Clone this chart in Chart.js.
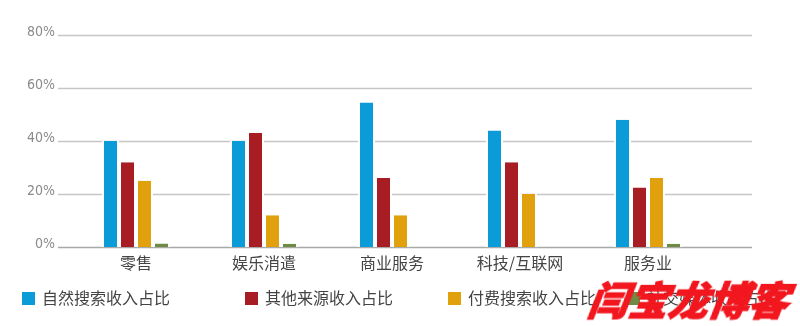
<!DOCTYPE html>
<html lang="zh-CN">
<head>
<meta charset="utf-8">
<title>各行业收入来源占比</title>
<script src="https://cdn.jsdelivr.net/npm/chart.js"></script>
<style>
    html, body { margin: 0; padding: 0; background: #fff; }
    #wrap { position: relative; width: 800px; height: 326px; overflow: hidden; }
    #chart { position: absolute; left: 0; top: 0; }
    .legend-item {
        position: absolute; top: 287px; height: 20px;
        font: 16px "Noto Sans CJK SC", sans-serif; color: #444;
        line-height: 20px; white-space: nowrap;
    }
    .legend-item i {
        display: inline-block; width: 13px; height: 13px;
        vertical-align: -1px; margin-right: 7px;
    }
    #mark {
        position: absolute; left: 589px; top: 276px;
        font: italic 900 40px "Noto Sans CJK SC", sans-serif;
        color: #f2161e; line-height: 46px; letter-spacing: 0;
        -webkit-text-stroke: 1.2px #f2161e;
        transform: skewX(-8deg);
    }
</style>
</head>
<body>
<div id="wrap">
    <canvas id="chart" width="800" height="326"></canvas>
    <div id="legend"></div>
    <div id="mark">闫宝龙博客</div>
</div>
<script>
    // 行业
    const industries = ['零售', '娱乐消遣', '商业服务', '科技/互联网', '服务业'];

    // 各收入来源占比 (%)
    const organicSearch = [40, 40, 54.5, 44, 48];
    const otherSources  = [32, 43, 26, 32, 22.5];
    const paidSearch    = [25, 12, 12, 20, 26];
    const socialMedia   = [1.3, 1.2, 0, 0, 1.2];

    const seriesNames  = ['自然搜索收入占比', '其他来源收入占比', '付费搜索收入占比', '社交媒体收入占比'];
    const seriesColors = ['#0b9bd8', '#a81c24', '#e0a10c', '#6e8a44'];
    const yTicks = [0, 20, 40, 60, 80];

    // 图例的横向位置
    const legendLeft = [22, 245, 448, 627];

    const seriesData = [organicSearch, otherSources, paidSearch, socialMedia];

    // 横向网格线比绘图区更宽，这里自己画
    const wideGrid = {
        id: 'wideGrid',
        beforeDatasetsDraw(chart) {
            const { ctx, scales: { x, y } } = chart;
            ctx.save();
            y.ticks.forEach(function (t) {
                const py = Math.round(y.getPixelForValue(t.value)) + 0.5;
                ctx.beginPath();
                ctx.lineWidth = 1.6;
                ctx.strokeStyle = t.value === 0 ? '#a9a9a9' : '#c6c6c6';
                ctx.moveTo(x.left - 14, py);
                ctx.lineTo(x.right + 40, py);
                ctx.stroke();
            });
            ctx.restore();
        }
    };

    const datasets = seriesNames.map(function (name, i) {
        return {
            label: name,
            data: seriesData[i],
            backgroundColor: seriesColors[i],
            borderColor: '#ffffff',
            borderWidth: { left: 2, right: 2, top: 0, bottom: 0 },
            borderSkipped: 'start',
            categoryPercentage: 0.531,
            barPercentage: 1.0
        };
    });

    new Chart(document.getElementById('chart'), {
        type: 'bar',
        data: { labels: industries, datasets: datasets },
        options: {
            responsive: false,
            animation: false,
            layout: { padding: { left: 0, right: 88, top: 35, bottom: 49 } },
            plugins: {
                legend: { display: false },
                tooltip: { enabled: false }
            },
            scales: {
                x: {
                    grid: { display: false, drawTicks: false },
                    border: { display: false },
                    ticks: {
                        padding: 6,
                        color: '#444',
                        font: { family: '"Noto Sans CJK SC", sans-serif', size: 16 }
                    },
                    afterFit(scale) { scale.height = 30; }
                },
                y: {
                    min: 0,
                    max: 80,
                    afterBuildTicks(scale) {
                        scale.ticks = yTicks.map(function (v) { return { value: v }; });
                    },
                    grid: { display: false, drawTicks: false },
                    border: { display: false },
                    ticks: {
                        padding: 17,
                        labelOffset: -3,
                        color: '#8a8a8a',
                        font: { family: '"Liberation Sans Narrow", "DejaVu Sans Condensed", sans-serif', size: 14 },
                        callback: function (v) { return v + '%'; }
                    },
                    afterFit(scale) { scale.width = 72; }
                }
            }
        },
        plugins: [wideGrid]
    });

    // 图例
    const legend = document.getElementById('legend');
    seriesNames.forEach(function (name, i) {
        const item = document.createElement('div');
        item.className = 'legend-item';
        item.style.left = legendLeft[i] + 'px';
        item.innerHTML = '<i style="background:' + seriesColors[i] + '"></i>' + name;
        legend.appendChild(item);
    });
</script>
</body>
</html>
